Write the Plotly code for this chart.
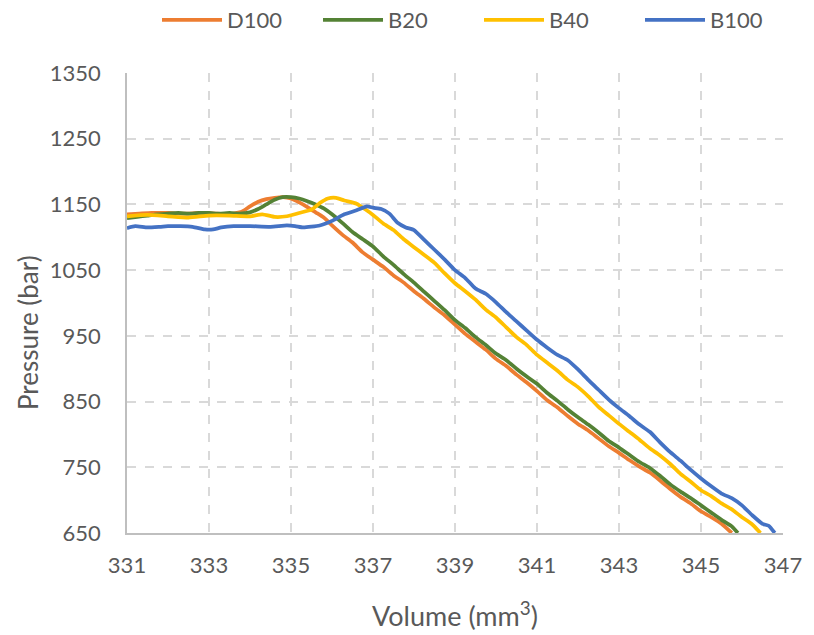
import plotly.graph_objects as go

# Pressure vs. volume traces for the four fuels
d100_vol = [331.0, 331.3, 331.6, 332.0, 332.4, 332.8, 333.2, 333.5, 333.8, 334.0, 334.2, 334.4, 334.6, 334.8,
            335.0, 335.2, 335.4, 335.6, 335.8, 336.0, 336.25, 336.5, 336.75, 337.0, 337.25, 337.5, 337.75,
            338.0, 338.25, 338.5, 338.75, 339.0, 339.25, 339.5, 339.75, 340.0, 340.25, 340.5, 340.75, 341.0,
            341.25, 341.5, 341.75, 342.0, 342.25, 342.5, 342.75, 343.0, 343.25, 343.5, 343.75, 344.0, 344.25,
            344.5, 344.75, 345.0, 345.25, 345.5, 345.75]
d100_p = [1135, 1136, 1137, 1137, 1136, 1137, 1136, 1135, 1139, 1147, 1154, 1158, 1160, 1161,
          1159, 1153, 1146, 1138, 1130, 1118, 1104, 1092, 1077, 1066, 1055, 1042, 1031,
          1018, 1006, 993, 981, 967, 953, 941, 929, 915, 904, 891, 879, 866,
          852, 841, 828, 816, 806, 794, 782, 772, 761, 751, 742, 730, 717,
          705, 695, 683, 674, 664, 650]

b20_vol = [331.0, 331.25, 331.5, 331.75, 332.0, 332.25, 332.5, 332.75, 333.0, 333.25, 333.5, 333.75, 334.0,
           334.2, 334.4, 334.6, 334.8, 335.0, 335.2, 335.4, 335.6, 335.8, 336.0, 336.25, 336.5, 336.75,
           337.0, 337.25, 337.5, 337.75, 338.0, 338.25, 338.5, 338.75, 339.0, 339.25, 339.5, 339.75, 340.0,
           340.25, 340.5, 340.75, 341.0, 341.25, 341.5, 341.75, 342.0, 342.25, 342.5, 342.75, 343.0, 343.25,
           343.5, 343.75, 344.0, 344.25, 344.5, 344.75, 345.0, 345.25, 345.5, 345.75, 345.9]
b20_p = [1129, 1131, 1133, 1135, 1136, 1137, 1136, 1137, 1137, 1136, 1137, 1136, 1138,
         1143, 1150, 1157, 1161, 1161, 1159, 1155, 1150, 1144, 1135, 1122, 1108, 1097,
         1086, 1071, 1058, 1044, 1031, 1017, 1003, 989, 974, 962, 948, 936, 923,
         913, 900, 888, 877, 863, 851, 838, 826, 815, 803, 790, 780, 769,
         758, 749, 737, 724, 713, 703, 692, 681, 670, 660, 650]

b40_vol = [331.0, 331.5, 332.0, 332.5, 333.0, 333.5, 334.0, 334.3, 334.6, 334.9, 335.2, 335.5, 335.7, 335.9,
           336.1, 336.3, 336.6, 336.8, 337.0, 337.25, 337.5, 337.75, 338.0, 338.25, 338.5, 338.75, 339.0,
           339.25, 339.5, 339.75, 340.0, 340.25, 340.5, 340.75, 341.0, 341.25, 341.5, 341.75, 342.0, 342.25,
           342.5, 342.75, 343.0, 343.25, 343.5, 343.75, 344.0, 344.25, 344.5, 344.75, 345.0, 345.25, 345.5,
           345.75, 346.0, 346.25, 346.45]
b40_p = [1132, 1134, 1132, 1130, 1133, 1133, 1132, 1135, 1131, 1132, 1137, 1142, 1152, 1159,
         1160, 1156, 1151, 1143, 1134, 1121, 1111, 1097, 1085, 1073, 1061, 1045, 1030,
         1018, 1005, 990, 978, 963, 948, 936, 921, 909, 897, 883, 872, 858,
         842, 829, 816, 804, 792, 779, 768, 755, 740, 728, 715, 706, 695,
         686, 674, 663, 650]

b100_vol = [331.0, 331.2, 331.5, 331.8, 332.0, 332.3, 332.6, 332.9, 333.1, 333.3, 333.6, 334.0, 334.5, 334.9,
            335.1, 335.3, 335.7, 336.0, 336.3, 336.6, 336.85, 337.0, 337.2, 337.4, 337.6, 337.8, 338.0,
            338.25, 338.5, 338.75, 339.0, 339.25, 339.5, 339.75, 340.0, 340.25, 340.5, 340.75, 341.0, 341.25,
            341.5, 341.75, 342.0, 342.25, 342.5, 342.75, 343.0, 343.25, 343.5, 343.75, 344.0, 344.25, 344.5,
            344.75, 345.0, 345.25, 345.5, 345.75, 346.0, 346.25, 346.5, 346.65, 346.8]
b100_p = [1114, 1117, 1115, 1116, 1117, 1117, 1116, 1112, 1112, 1115, 1117, 1117, 1116, 1118,
          1117, 1115, 1118, 1125, 1135, 1141, 1147, 1145, 1143, 1136, 1122, 1115, 1111,
          1096, 1081, 1066, 1050, 1038, 1022, 1014, 1001, 986, 972, 958, 944, 932,
          921, 913, 899, 883, 868, 853, 840, 828, 815, 804, 788, 773, 760,
          746, 733, 721, 710, 703, 692, 677, 664, 661, 650]

series_names = ["D100", "B20", "B40", "B100"]
series_colors = ["#ED7D31", "#548235", "#FFC000", "#4472C4"]
series_data = [(d100_vol, d100_p), (b20_vol, b20_p), (b40_vol, b40_p), (b100_vol, b100_p)]

x_ticks = [331, 333, 335, 337, 339, 341, 343, 345, 347]
y_ticks = [650, 750, 850, 950, 1050, 1150, 1250, 1350]

FONT = "Lato, 'Open Sans', sans-serif"
TEXT = "#595959"
GRID = "#D9D9D9"
AXIS = "#BFBFBF"

W, H = 814, 635
ML, MR, MT, MB = 127, 31, 73, 102
plot_w, plot_h = W - ML - MR, H - MT - MB

fig = go.Figure()
for name, color, (vx, py) in zip(series_names, series_colors, series_data):
    fig.add_trace(go.Scatter(
        x=vx, y=py, name=name, mode="lines",
        line=dict(color=color, width=3.75, shape="spline", smoothing=0.5),
    ))

fig.update_layout(
    width=W, height=H,
    margin=dict(l=ML, r=MR, t=MT, b=MB, autoexpand=False),
    paper_bgcolor="white", plot_bgcolor="white",
    font=dict(family=FONT, color=TEXT, size=22),
    showlegend=True,
    legend=dict(
        orientation="h", xref="container", x=157 / W, xanchor="left",
        yref="container", y=1 - 20 / H, yanchor="middle",
        font=dict(family=FONT, size=22, color=TEXT),
        itemwidth=60,
        entrywidth=86, entrywidthmode="pixels",
        bgcolor="rgba(0,0,0,0)",
    ),
    xaxis=dict(
        range=[331, 347], tickvals=x_ticks, ticktext=[str(v) for v in x_ticks],
        showgrid=True, gridcolor=GRID, griddash="dash", gridwidth=1.5,
        showline=True, linecolor=AXIS, linewidth=1.5, zeroline=False,
        ticks="", ticklabelstandoff=12, automargin=False,
        tickfont=dict(family=FONT, size=22, color=TEXT),
        title=dict(text="Volume (mm<sup>3</sup>)", font=dict(family=FONT, size=27, color=TEXT), standoff=30),
    ),
    yaxis=dict(
        range=[650, 1350], tickvals=y_ticks, ticktext=[str(v) for v in y_ticks],
        showgrid=True, gridcolor=GRID, griddash="dash", gridwidth=1.5,
        showline=True, linecolor=AXIS, linewidth=1.5, zeroline=False,
        ticks="", ticklabelstandoff=20, automargin=False,
        tickfont=dict(family=FONT, size=22, color=TEXT),
    ),
    annotations=[dict(
        text="Pressure (bar)", textangle=-90, showarrow=False,
        xref="paper", x=(28 - ML) / plot_w, xanchor="center",
        yref="paper", y=(H - MB - 333) / plot_h, yanchor="middle",
        font=dict(family=FONT, size=26, color=TEXT),
    )],
)

fig.write_html("out.html")
